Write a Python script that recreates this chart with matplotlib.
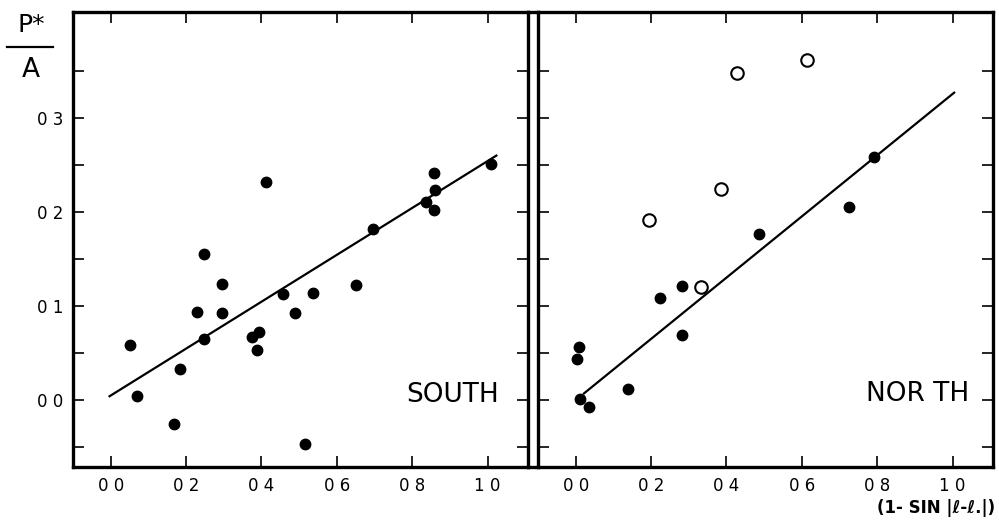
import matplotlib.pyplot as plt
from matplotlib.lines import Line2D
import numpy as np

plt.rcParams['font.family'] = 'DejaVu Sans'

# South panel data (x = 1 - sin|l - l0|, y = P*/A)
south_x = [0.052, 0.070, 0.168, 0.184, 0.228, 0.247, 0.247, 0.295, 0.295, 0.375,
           0.393, 0.387, 0.412, 0.456, 0.489, 0.536, 0.516, 0.652, 0.695, 0.837,
           0.857, 0.859, 0.857, 1.009]
south_y = [0.0058, 0.0004, -0.0026, 0.0033, 0.0094, 0.0155, 0.0065, 0.0123, 0.0093, 0.0067,
           0.0072, 0.0053, 0.0232, 0.0113, 0.0093, 0.0114, -0.0047, 0.0122, 0.0182, 0.0211,
           0.0202, 0.0223, 0.0242, 0.0251]
south_fit_x = [-0.003, 1.023]
south_fit_y = [0.0004, 0.0260]

# North panel data
north_x = [0.009, 0.004, 0.011, 0.035, 0.139, 0.223, 0.282, 0.282, 0.486, 0.725, 0.792]
north_y = [0.0056, 0.0044, 0.0001, -0.0007, 0.0012, 0.0108, 0.0121, 0.0069, 0.0177, 0.0205, 0.0259]
north_open_x = [0.194, 0.333, 0.386, 0.429, 0.613]
north_open_y = [0.0191, 0.0120, 0.0225, 0.0348, 0.0362]
north_fit_x = [0.022, 1.004]
north_fit_y = [0.0007, 0.0327]

x_ticks = [0.0, 0.2, 0.4, 0.6, 0.8, 1.0]
x_ticklabels = ['0 0', '0 2', '0 4', '0 6', '0 8', '1 0']
y_ticks = [-0.005, 0.0, 0.005, 0.01, 0.015, 0.02, 0.025, 0.03, 0.035]
y_ticklabels = ['', '0 0', '', '0 1', '', '0 2', '', '0 3', '']

fig = plt.figure(figsize=(9.99, 5.22), dpi=100)
W, H = 999, 522
y0, y1 = 467, 12
ax_s = fig.add_axes([73 / W, 1 - y0 / H, (528 - 73) / W, (y0 - y1) / H])
ax_n = fig.add_axes([538 / W, 1 - y0 / H, (993 - 538) / W, (y0 - y1) / H])

for ax in (ax_s, ax_n):
    ax.set_xlim(-0.1, 1.107)
    ax.set_ylim(-0.00713, 0.04128)
    for sp in ax.spines.values():
        sp.set_linewidth(2.4)
    ax.set_xticks(x_ticks)
    ax.set_xticklabels(x_ticklabels)
    ax.set_yticks(y_ticks)
    ax.tick_params(direction='in', length=8, width=1.2, top=True, right=True,
                   labelsize=12, pad=7)

ax_s.set_yticklabels(y_ticklabels)
ax_n.set_yticklabels([''] * len(y_ticks))

# south
ax_s.plot(south_fit_x, south_fit_y, color='black', lw=1.6)
ax_s.plot(south_x, south_y, 'o', color='black', ms=7.5)
ax_s.text(1.029, -0.0002, 'SOUTH', fontsize=19, ha='right', va='baseline')

# north
ax_n.plot(north_fit_x, north_fit_y, color='black', lw=1.6)
ax_n.plot(north_x, north_y, 'o', color='black', ms=7.5)
ax_n.plot(north_open_x, north_open_y, 'o', mfc='white', mec='black', mew=1.5, ms=9)
ax_n.text(1.043, -0.0001, 'NOR TH', fontsize=19, ha='right', va='baseline')

# frame lines bridging the gap between panels
for yy in (1 - y0 / H, 1 - y1 / H):
    fig.add_artist(Line2D([528 / W, 538 / W], [yy, yy], color='black', lw=2.4,
                          transform=fig.transFigure))

# P*/A label
fig.text(31 / W, 1 - 32 / H, 'P*', fontsize=18, ha='center', va='baseline')
fig.add_artist(Line2D([7 / W, 53 / W], [1 - 47 / H, 1 - 47 / H], color='black', lw=1.6,
                      transform=fig.transFigure))
fig.text(31 / W, 1 - 77 / H, 'A', fontsize=19, ha='center', va='baseline')

# x label
fig.text(995 / W, 1 - 513 / H, '(1- SIN |ℓ-ℓ.|)', fontsize=12, fontweight='bold',
         ha='right', va='baseline')

plt.savefig('out.png', dpi=100)
